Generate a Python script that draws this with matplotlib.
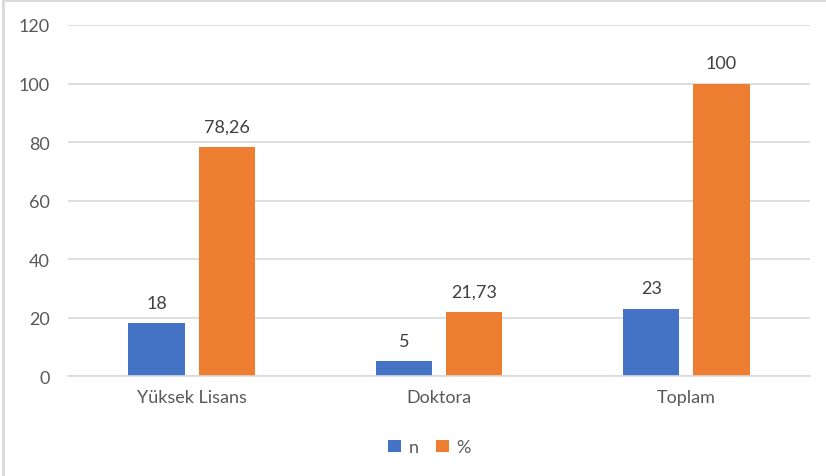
import numpy as np
import matplotlib.pyplot as plt
from matplotlib.lines import Line2D

categories = ['Yüksek Lisans', 'Doktora', 'Toplam']
n_values = [18, 5, 23]
pct_values = [78.26, 21.73, 100]
n_labels = ['18', '5', '23']
pct_labels = ['78,26', '21,73', '100']

plt.rcParams['font.family'] = ['Lato', 'DejaVu Sans']
text_color = '#595959'

fig = plt.figure(figsize=(8.26, 4.77), dpi=100)
ax = fig.add_axes([0.0823, 0.2096, 0.8983, 0.7359])

x = np.arange(len(categories))
w = 0.227
off = 0.142
b1 = ax.bar(x - off, n_values, w, color='#4472C4', label='n', zorder=2)
b2 = ax.bar(x + off, pct_values, w, color='#ED7D31', label='%', zorder=2)

for bars, labels in ((b1, n_labels), (b2, pct_labels)):
    for rect, lab in zip(bars, labels):
        ax.annotate(lab, (rect.get_x() + rect.get_width() / 2, rect.get_height()),
                    xytext=(0, 9), textcoords='offset points', ha='center', va='bottom',
                    fontsize=13, color='#404040')

ax.set_xlim(-0.5, 2.5)
ax.set_ylim(0, 120)
ax.set_yticks(range(0, 121, 20))
ax.set_xticks(x)
ax.set_xticklabels(categories)
ax.tick_params(axis='both', length=0, labelsize=13, labelcolor=text_color)
ax.tick_params(axis='y', pad=13)
ax.tick_params(axis='x', pad=9)
ax.grid(axis='y', color='#D9D9D9', linewidth=1.2, zorder=0)
for s in ['top', 'right', 'left']:
    ax.spines[s].set_visible(False)
ax.spines['bottom'].set_color('#D9D9D9')
ax.spines['bottom'].set_linewidth(1.2)

fig.legend(handles=[b1, b2], labels=['n', '%'], loc='center', bbox_to_anchor=(0.52, 0.06),
           ncol=2, frameon=False, fontsize=13, labelcolor=text_color,
           handlelength=0.7, handleheight=0.7, handletextpad=0.4, columnspacing=1.0)

# chart border (cropped: only top and left visible)
fig.add_artist(Line2D([0.004, 1.0], [0.997, 0.997], color='#D9D9D9', linewidth=2, transform=fig.transFigure))
fig.add_artist(Line2D([0.004, 0.004], [0.0, 0.997], color='#D9D9D9', linewidth=2, transform=fig.transFigure))

fig.savefig('out.png', dpi=100)
